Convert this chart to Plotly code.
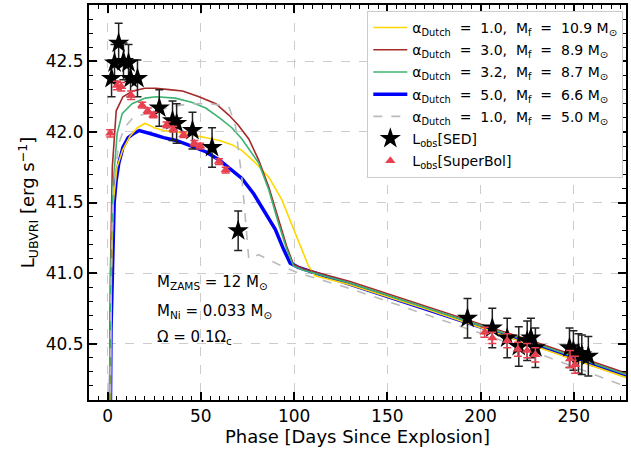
import plotly.graph_objects as go

# ---------------- data ----------------
# model light curves (phase [d], log L)
yel_t = [1.0, 2.0, 3.0, 5.0, 8.0, 12.0, 16.0, 20.0, 22.0, 25.0, 30.0, 37.0, 45.0, 52.6, 60.0, 66.6, 72.0, 79.3, 86.4, 93.4, 100.5, 107.7, 111.2, 129.0, 172.0, 225.0, 278.0]
yel_L = [39.0, 41.0, 41.5, 41.75, 41.87, 41.97, 42.03, 42.06, 42.05, 42.03, 42.01, 42.00, 41.98, 41.96, 41.94, 41.91, 41.87, 41.78, 41.68, 41.52, 41.28, 41.05, 40.98, 40.92, 40.74, 40.50, 40.26]

brn_t = [0.5, 1.5, 2.5, 4.6, 8.2, 13.5, 20.0, 26.0, 33.0, 40.2, 49.0, 58.0, 65.0, 70.0, 75.7, 81.0, 86.4, 91.7, 96.0, 99.7, 105.0, 130.0, 172.0, 225.0, 278.0]
brn_L = [39.0, 41.0, 41.75, 42.15, 42.25, 42.29, 42.31, 42.31, 42.30, 42.29, 42.25, 42.20, 42.12, 42.05, 41.95, 41.80, 41.61, 41.38, 41.19, 41.06, 41.03, 40.94, 40.76, 40.53, 40.29]

grn_t = [0.5, 1.5, 2.8, 5.1, 7.8, 13.1, 20.2, 26.0, 36.2, 45.0, 52.6, 60.0, 66.6, 72.0, 81.0, 86.4, 91.7, 96.0, 99.7, 105.0, 130.0, 172.0, 225.0, 278.0]
grn_L = [39.0, 40.9, 41.6, 41.99, 42.13, 42.20, 42.24, 42.25, 42.24, 42.21, 42.17, 42.10, 42.03, 41.95, 41.78, 41.59, 41.35, 41.17, 41.05, 41.02, 40.93, 40.75, 40.52, 40.28]

blu_t = [1.2, 1.8, 3.5, 4.6, 6.0, 8.2, 11.0, 14.0, 17.0, 20.0, 25.0, 30.0, 36.7, 45.0, 52.6, 60.0, 66.6, 72.0, 78.4, 84.6, 89.9, 94.3, 97.9, 102.3, 130.0, 172.0, 225.0, 278.0]
blu_L = [39.5, 40.6, 41.5, 41.66, 41.78, 41.89, 41.96, 41.99, 42.01, 42.00, 41.98, 41.96, 41.94, 41.90, 41.86, 41.80, 41.73, 41.67, 41.56, 41.42, 41.31, 41.17, 41.07, 41.04, 40.92, 40.74, 40.51, 40.27]

gry_t = [0.8, 1.8, 3.0, 6.0, 9.0, 13.5, 20.0, 26.0, 35.0, 43.7, 55.0, 65.0, 68.6, 72.1, 75.7, 81.0, 91.7, 102.3, 130.0, 172.0, 225.0, 279.0]
gry_L = [39.0, 40.9, 41.6, 41.92, 42.03, 42.10, 42.13, 42.15, 42.18, 42.20, 42.20, 42.18, 42.04, 41.66, 41.10, 41.13, 41.06, 41.00, 40.89, 40.70, 40.46, 40.19]

# observed luminosity, SED
sed_t = [2.1, 3.7, 5.9, 8.5, 11.2, 12.3, 16.0, 27.7, 34.8, 37.0, 45.5, 56.0, 70.0,
         193.0, 206.3, 214.3, 220.5, 225.0, 227.0, 229.4, 247.7, 249.8, 252.5, 254.3, 257.8]
sed_L = [42.38, 42.49, 42.63, 42.50, 42.49, 42.38, 42.38, 42.17, 42.08, 42.06, 42.01, 41.89, 41.30,
         40.68, 40.61, 40.54, 40.48, 40.52, 40.54, 40.47, 40.47, 40.45, 40.43, 40.42, 40.41]
sed_e = [0.13, 0.13, 0.14, 0.13, 0.13, 0.13, 0.13, 0.13, 0.14, 0.14, 0.13, 0.14, 0.14,
         0.14, 0.14, 0.14, 0.14, 0.14, 0.14, 0.14, 0.14, 0.14, 0.14, 0.14, 0.14]

# observed luminosity, SuperBol
sb_t = [1.4, 5.0, 7.3, 12.6, 18.5, 21.5, 24.5, 31.6, 35.2, 40.7, 46.5, 49.6, 59.7, 63.3,
        202.2, 206.3, 214.3, 220.0, 225.0, 229.4, 248.0, 250.7]
sb_L = [41.99, 42.33, 42.32, 42.26, 42.19, 42.15, 42.12, 42.05, 42.02, 41.98, 41.92, 41.90, 41.79, 41.73,
        40.58, 40.54, 40.52, 40.46, 40.45, 40.42, 40.39, 40.35]
sb_e = [0.025, 0.03, 0.03, 0.03, 0.02, 0.02, 0.02, 0.02, 0.02, 0.02, 0.02, 0.02, 0.02, 0.02,
        0.035, 0.04, 0.05, 0.05, 0.05, 0.05, 0.06, 0.06]

labels = [
    "α<sub>Dutch</sub>  =  1.0,  M<sub>f</sub>  =  10.9 M<sub>⊙</sub>",
    "α<sub>Dutch</sub>  =  3.0,  M<sub>f</sub>  =  8.9 M<sub>⊙</sub>",
    "α<sub>Dutch</sub>  =  3.2,  M<sub>f</sub>  =  8.7 M<sub>⊙</sub>",
    "α<sub>Dutch</sub>  =  5.0,  M<sub>f</sub>  =  6.6 M<sub>⊙</sub>",
    "α<sub>Dutch</sub>  =  1.0,  M<sub>f</sub>  =  5.0 M<sub>⊙</sub>",
    "L<sub>obs</sub>[SED]",
    "L<sub>obs</sub>[SuperBol]",
]

FONT = "DejaVu Sans"
fig = go.Figure()

models = [
    (yel_t, yel_L, "#FFD700", 1.6, "solid"),
    (brn_t, brn_L, "#A52A2A", 1.6, "solid"),
    (grn_t, grn_L, "#3CB371", 1.6, "solid"),
    (blu_t, blu_L, "#0000FF", 3.5, "solid"),
    (gry_t, gry_L, "#BBBBBB", 1.6, "dash"),
]
draw_order = [3, 0, 1, 2, 4]  # thick blue curve underneath the others
for i in draw_order:
    t, L, c, w, d = models[i]
    fig.add_trace(go.Scatter(x=t, y=L, mode="lines", name=labels[i], legendgroup=f"g{i}",
                             legendrank=i + 1, line=dict(color=c, width=w, dash=d)))

fig.add_trace(go.Scatter(
    x=sed_t, y=sed_L, mode="markers", name=labels[5], legendgroup="g5", legendrank=6,
    marker=dict(symbol="star", size=16, color="black", line=dict(width=0)),
    error_y=dict(type="data", array=sed_e, visible=True, color="#222222", thickness=1.5, width=4),
))
fig.add_trace(go.Scatter(
    x=sb_t, y=sb_L, mode="markers", name=labels[6], legendgroup="g6", legendrank=7,
    marker=dict(symbol="triangle-up", size=9, color="#E8404F", line=dict(width=0)),
    error_y=dict(type="data", array=sb_e, visible=True, color="#E8404F", thickness=1.5, width=4),
))

ann = [
    (40.93, "M<sub>ZAMS</sub> = 12 M<sub>⊙</sub>"),
    (40.73, "M<sub>Ni</sub> = 0.033 M<sub>⊙</sub>"),
    (40.545, "Ω = 0.1Ω<sub>c</sub>"),
]
for yv, txt in ann:
    fig.add_annotation(x=25.5, y=yv, text=txt, showarrow=False, xanchor="left", yanchor="middle",
                       font=dict(family=FONT, size=15, color="black"))

axis_common = dict(
    showline=True, linecolor="black", linewidth=2, mirror="ticks",
    ticks="inside", ticklen=8, tickwidth=1.5, tickcolor="black",
    showgrid=True, gridcolor="#CCCCCC", griddash="dash", gridwidth=1,
    zeroline=False, tickfont=dict(family=FONT, size=17, color="black"),
)
fig.update_xaxes(range=[-10, 278], tick0=0, dtick=50,
                 minor=dict(dtick=5, ticklen=4, ticks="inside", tickcolor="black", tickwidth=1, showgrid=False),
                 title=dict(text="Phase [Days Since Explosion]", font=dict(family=FONT, size=18, color="black"), standoff=5),
                 **axis_common)
fig.update_yaxes(range=[40.1, 42.9], tick0=40.0, dtick=0.5, tickformat=".1f",
                 minor=dict(dtick=0.1, ticklen=4, ticks="inside", tickcolor="black", tickwidth=1, showgrid=False),
                 title=dict(text="L<sub>UBVRI</sub> [erg s<sup>−1</sup>]", font=dict(family=FONT, size=18, color="black"), standoff=6),
                 **axis_common)

fig.update_layout(
    width=631, height=460,
    margin=dict(l=89, r=3, t=5, b=60),
    paper_bgcolor="white", plot_bgcolor="white",
    font=dict(family=FONT, color="black"),
    showlegend=True,
    legend=dict(x=0.995, y=0.985, xanchor="right", yanchor="top",
                bgcolor="white", bordercolor="#CCCCCC", borderwidth=1,
                font=dict(family=FONT, size=14, color="black"),
                tracegroupgap=1, itemwidth=34),
)

fig.write_html("out.html")
